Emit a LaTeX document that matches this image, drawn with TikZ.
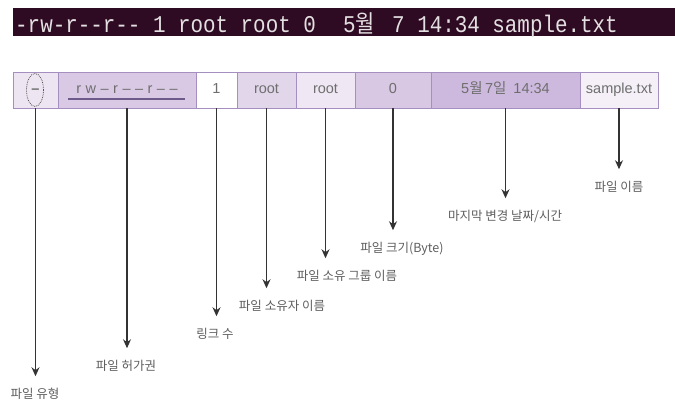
\documentclass[tikz,border=0pt]{standalone}
\usepackage{fontspec}
\setmainfont{Liberation Sans}
\newfontfamily\kr{Noto Sans CJK KR}
\newfontfamily\monof{Liberation Mono}
\usetikzlibrary{shapes.geometric,arrows.meta}
\definecolor{termbg}{HTML}{2E0B22}
\definecolor{termfg}{HTML}{E4E0E2}
\definecolor{cellA}{HTML}{EDE5F1}
\definecolor{cellB}{HTML}{D9C9E4}
\definecolor{cellD}{HTML}{E2D6EB}
\definecolor{cellE}{HTML}{EFE8F4}
\definecolor{cellF}{HTML}{D9C8E3}
\definecolor{cellG}{HTML}{CDB9DD}
\definecolor{cellH}{HTML}{F5F0F8}
\definecolor{cellborder}{HTML}{A58FC0}
\definecolor{celltext}{HTML}{6E6E6E}
\definecolor{uline}{HTML}{6F5A8C}
\definecolor{labgray}{HTML}{5E5E5E}
\definecolor{arrgray}{HTML}{333333}
\definecolor{dotgray}{HTML}{555555}
\newcommand\termtxt[1]{\scalebox{0.87}[1]{#1}}
\begin{document}
\begin{tikzpicture}[x=1pt,y=-1pt,
  term/.style={inner sep=0pt, text=termfg, font=\monof\fontsize{24}{24}\selectfont},
  cell/.style={draw=cellborder, line width=0.8pt, minimum height=36pt, inner sep=0pt,
    text=celltext, font=\fontsize{14.5}{16}\selectfont, text height=10.5pt, text depth=3pt},
  lab/.style={font=\kr\fontsize{12.5}{14}\selectfont, text=labgray, inner sep=0pt,
    outer ysep=12.5pt, text height=10pt, text depth=2.5pt},
  arr/.style={draw=arrgray, line width=1.3pt, -{Stealth[length=9pt,width=8pt]}}]
\useasboundingbox (0,0) rectangle (675,406);

% terminal line
\node[fill=termbg, minimum width=662pt, minimum height=28pt, inner sep=0pt, anchor=north west] (bar) at (13,8) {};
\node[term, anchor=base west] (tA) at (15,33) {\termtxt{-rw-r--r-- 1 root root 0}};
\node[term, anchor=base west] (tB) at (343,33) {\termtxt{5{\kr 월}}};
\node[term, anchor=base west] (tC) at (392,33) {\termtxt{7 14:34 sample.txt}};

% table cells
\node[cell, fill=cellA, minimum width=45pt]  (c1) at (35.5,90)  {\textbf{–}};
\node[cell, fill=cellB, minimum width=138pt] (c2) at (127,90)   {r\hspace{4.5pt}w\hspace{4.5pt}–\hspace{4.5pt}r\hspace{4.5pt}–\hspace{4.5pt}–\hspace{4.5pt}r\hspace{4.5pt}–\hspace{4.5pt}–};
\node[cell, fill=white, minimum width=41pt]  (c3) at (216.5,90) {1};
\node[cell, fill=cellD, minimum width=59pt]  (c4) at (266.5,90) {root};
\node[cell, fill=cellE, minimum width=59pt]  (c5) at (325.5,90) {root};
\node[cell, fill=cellF, minimum width=76pt]  (c6) at (393,90)   {0};
\node[cell, fill=cellG, minimum width=149pt] (c7) at (505.5,90) {5{\kr 월}\,7{\kr 일}\hspace{7pt}14:34};
\node[cell, fill=cellH, minimum width=78pt]  (c8) at (619,90)   {sample.txt};

% dotted ellipse and underline
\node[ellipse, draw=dotgray, densely dotted, line width=0.8pt, minimum width=17pt, minimum height=33pt, inner sep=0pt] (typ) at (35,90) {};
\draw[uline, line width=1.8pt] ([xshift=-59pt,yshift=-9pt]c2.center) -- ([xshift=58pt,yshift=-9pt]c2.center);

% labels
\node[lab] (l1) at (35,395)  {파일 유형};
\node[lab] (l2) at (126,367) {파일 허가권};
\node[lab] (l3) at (215,335) {링크 수};
\node[lab] (l4) at (282,307) {파일 소유자 이름};
\node[lab] (l5) at (347,277) {파일 소유 그룹 이름};
\node[lab] (l6) at (402,249) {파일 크기(Byte)};
\node[lab] (l7) at (505,217) {마지막 변경 날짜/시간};
\node[lab] (l8) at (619,188) {파일 이름};

% arrows
\draw[arr] (c1.south) -- (c1.south |- l1.north);
\draw[arr] (c2.south) -- (c2.south |- l2.north);
\draw[arr] (c3.south) -- (c3.south |- l3.north);
\draw[arr] (c4.south) -- (c4.south |- l4.north);
\draw[arr] (c5.south) -- (c5.south |- l5.north);
\draw[arr] (c6.south) -- (c6.south |- l6.north);
\draw[arr] (c7.south) -- (c7.south |- l7.north);
\draw[arr] (c8.south) -- (c8.south |- l8.north);
\end{tikzpicture}
\end{document}
